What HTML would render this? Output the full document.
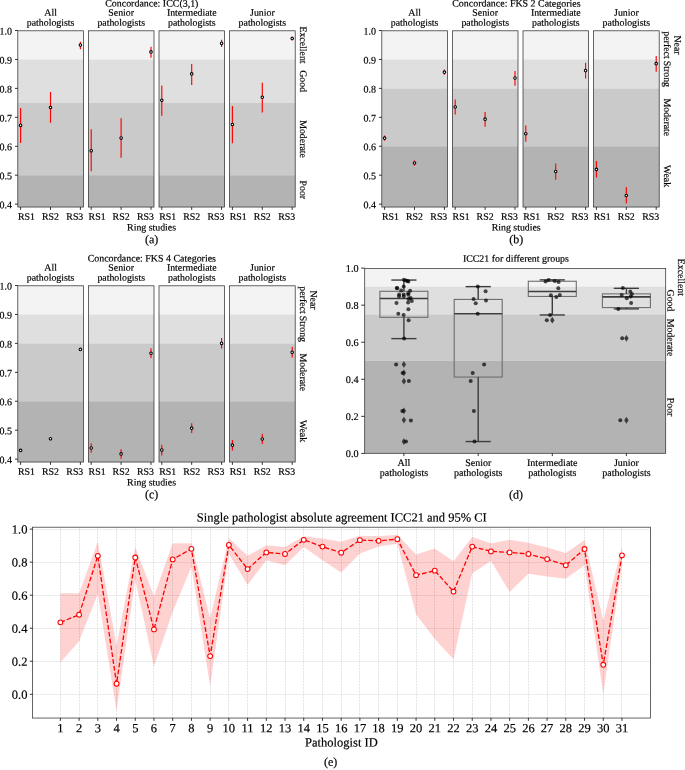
<!DOCTYPE html>
<html><head><meta charset="utf-8"><title>Figure</title>
<style>
html,body{margin:0;padding:0;background:#fff;}
body{width:685px;height:770px;overflow:hidden;}
svg{display:block;will-change:transform;text-rendering:geometricPrecision;font-family:'Liberation Serif', serif;fill:#000;}
svg text{stroke:#000;stroke-width:0.18px;}
</style></head><body>
<svg width="685" height="770" viewBox="0 0 685 770">
<rect width="685" height="770" fill="#fff"/>
<rect x="17.80" y="30.80" width="65.60" height="28.64" fill="#f3f3f3"/>
<rect x="17.80" y="59.44" width="65.60" height="43.41" fill="#dfdfdf"/>
<rect x="17.80" y="102.85" width="65.60" height="72.35" fill="#cacaca"/>
<rect x="17.80" y="175.20" width="65.60" height="31.85" fill="#b3b3b3"/>
<line x1="20.60" x2="20.60" y1="107.89" y2="142.90" stroke="#f00" stroke-width="1.15"/>
<circle cx="20.60" cy="125.39" r="1.3" fill="#fff" stroke="#000" stroke-width="1.05"/>
<line x1="50.50" x2="50.50" y1="92.06" y2="122.82" stroke="#f00" stroke-width="1.15"/>
<circle cx="50.50" cy="107.48" r="1.3" fill="#fff" stroke="#000" stroke-width="1.05"/>
<line x1="80.40" x2="80.40" y1="41.79" y2="49.17" stroke="#f00" stroke-width="1.15"/>
<circle cx="80.40" cy="45.11" r="1.3" fill="#fff" stroke="#000" stroke-width="1.05"/>
<rect x="17.80" y="30.80" width="65.60" height="176.25" fill="none" stroke="#333" stroke-width="0.75"/>
<line x1="20.60" x2="20.60" y1="207.05" y2="209.85" stroke="#111" stroke-width="0.85"/>
<line x1="50.50" x2="50.50" y1="207.05" y2="209.85" stroke="#111" stroke-width="0.85"/>
<line x1="80.40" x2="80.40" y1="207.05" y2="209.85" stroke="#111" stroke-width="0.85"/>
<text x="18.00" y="219.65" transform="rotate(0.03 18.00 219.65)" font-size="9.85" text-anchor="start" >RS1</text>
<text x="50.50" y="219.65" transform="rotate(0.03 50.50 219.65)" font-size="9.85" text-anchor="middle" >RS2</text>
<text x="83.30" y="219.65" transform="rotate(0.03 83.30 219.65)" font-size="9.85" text-anchor="end" >RS3</text>
<text x="50.60" y="15.70" transform="rotate(0.03 50.60 15.70)" font-size="9.85" text-anchor="middle" >All</text>
<text x="50.60" y="25.70" transform="rotate(0.03 50.60 25.70)" font-size="9.85" text-anchor="middle" >pathologists</text>
<rect x="88.40" y="30.80" width="65.60" height="28.64" fill="#f3f3f3"/>
<rect x="88.40" y="59.44" width="65.60" height="43.41" fill="#dfdfdf"/>
<rect x="88.40" y="102.85" width="65.60" height="72.35" fill="#cacaca"/>
<rect x="88.40" y="175.20" width="65.60" height="31.85" fill="#b3b3b3"/>
<line x1="91.20" x2="91.20" y1="129.19" y2="171.26" stroke="#f00" stroke-width="1.15"/>
<circle cx="91.20" cy="150.80" r="1.3" fill="#fff" stroke="#000" stroke-width="1.05"/>
<line x1="121.10" x2="121.10" y1="118.19" y2="157.84" stroke="#f00" stroke-width="1.15"/>
<circle cx="121.10" cy="138.07" r="1.3" fill="#fff" stroke="#000" stroke-width="1.05"/>
<line x1="151.00" x2="151.00" y1="46.71" y2="57.79" stroke="#f00" stroke-width="1.15"/>
<circle cx="151.00" cy="51.92" r="1.3" fill="#fff" stroke="#000" stroke-width="1.05"/>
<rect x="88.40" y="30.80" width="65.60" height="176.25" fill="none" stroke="#333" stroke-width="0.75"/>
<line x1="91.20" x2="91.20" y1="207.05" y2="209.85" stroke="#111" stroke-width="0.85"/>
<line x1="121.10" x2="121.10" y1="207.05" y2="209.85" stroke="#111" stroke-width="0.85"/>
<line x1="151.00" x2="151.00" y1="207.05" y2="209.85" stroke="#111" stroke-width="0.85"/>
<text x="88.60" y="219.65" transform="rotate(0.03 88.60 219.65)" font-size="9.85" text-anchor="start" >RS1</text>
<text x="121.10" y="219.65" transform="rotate(0.03 121.10 219.65)" font-size="9.85" text-anchor="middle" >RS2</text>
<text x="153.90" y="219.65" transform="rotate(0.03 153.90 219.65)" font-size="9.85" text-anchor="end" >RS3</text>
<text x="121.20" y="15.70" transform="rotate(0.03 121.20 15.70)" font-size="9.85" text-anchor="middle" >Senior</text>
<text x="121.20" y="25.70" transform="rotate(0.03 121.20 25.70)" font-size="9.85" text-anchor="middle" >pathologists</text>
<rect x="159.00" y="30.80" width="65.60" height="28.64" fill="#f3f3f3"/>
<rect x="159.00" y="59.44" width="65.60" height="43.41" fill="#dfdfdf"/>
<rect x="159.00" y="102.85" width="65.60" height="72.35" fill="#cacaca"/>
<rect x="159.00" y="175.20" width="65.60" height="31.85" fill="#b3b3b3"/>
<line x1="161.80" x2="161.80" y1="85.49" y2="115.87" stroke="#f00" stroke-width="1.15"/>
<circle cx="161.80" cy="100.30" r="1.3" fill="#fff" stroke="#000" stroke-width="1.05"/>
<line x1="191.70" x2="191.70" y1="63.90" y2="84.99" stroke="#f00" stroke-width="1.15"/>
<circle cx="191.70" cy="73.91" r="1.3" fill="#fff" stroke="#000" stroke-width="1.05"/>
<line x1="221.60" x2="221.60" y1="39.76" y2="46.91" stroke="#f00" stroke-width="1.15"/>
<circle cx="221.60" cy="43.38" r="1.3" fill="#fff" stroke="#000" stroke-width="1.05"/>
<rect x="159.00" y="30.80" width="65.60" height="176.25" fill="none" stroke="#333" stroke-width="0.75"/>
<line x1="161.80" x2="161.80" y1="207.05" y2="209.85" stroke="#111" stroke-width="0.85"/>
<line x1="191.70" x2="191.70" y1="207.05" y2="209.85" stroke="#111" stroke-width="0.85"/>
<line x1="221.60" x2="221.60" y1="207.05" y2="209.85" stroke="#111" stroke-width="0.85"/>
<text x="159.20" y="219.65" transform="rotate(0.03 159.20 219.65)" font-size="9.85" text-anchor="start" >RS1</text>
<text x="191.70" y="219.65" transform="rotate(0.03 191.70 219.65)" font-size="9.85" text-anchor="middle" >RS2</text>
<text x="224.50" y="219.65" transform="rotate(0.03 224.50 219.65)" font-size="9.85" text-anchor="end" >RS3</text>
<text x="191.80" y="15.70" transform="rotate(0.03 191.80 15.70)" font-size="9.85" text-anchor="middle" >Intermediate</text>
<text x="191.80" y="25.70" transform="rotate(0.03 191.80 25.70)" font-size="9.85" text-anchor="middle" >pathologists</text>
<rect x="229.60" y="30.80" width="65.60" height="28.64" fill="#f3f3f3"/>
<rect x="229.60" y="59.44" width="65.60" height="43.41" fill="#dfdfdf"/>
<rect x="229.60" y="102.85" width="65.60" height="72.35" fill="#cacaca"/>
<rect x="229.60" y="175.20" width="65.60" height="31.85" fill="#b3b3b3"/>
<line x1="232.40" x2="232.40" y1="106.03" y2="143.37" stroke="#f00" stroke-width="1.15"/>
<circle cx="232.40" cy="124.47" r="1.3" fill="#fff" stroke="#000" stroke-width="1.05"/>
<line x1="262.30" x2="262.30" y1="82.82" y2="112.40" stroke="#f00" stroke-width="1.15"/>
<circle cx="262.30" cy="97.26" r="1.3" fill="#fff" stroke="#000" stroke-width="1.05"/>
<line x1="292.20" x2="292.20" y1="36.43" y2="40.48" stroke="#f00" stroke-width="1.15"/>
<circle cx="292.20" cy="38.46" r="1.3" fill="#fff" stroke="#000" stroke-width="1.05"/>
<rect x="229.60" y="30.80" width="65.60" height="176.25" fill="none" stroke="#333" stroke-width="0.75"/>
<line x1="232.40" x2="232.40" y1="207.05" y2="209.85" stroke="#111" stroke-width="0.85"/>
<line x1="262.30" x2="262.30" y1="207.05" y2="209.85" stroke="#111" stroke-width="0.85"/>
<line x1="292.20" x2="292.20" y1="207.05" y2="209.85" stroke="#111" stroke-width="0.85"/>
<text x="229.80" y="219.65" transform="rotate(0.03 229.80 219.65)" font-size="9.85" text-anchor="start" >RS1</text>
<text x="262.30" y="219.65" transform="rotate(0.03 262.30 219.65)" font-size="9.85" text-anchor="middle" >RS2</text>
<text x="295.10" y="219.65" transform="rotate(0.03 295.10 219.65)" font-size="9.85" text-anchor="end" >RS3</text>
<text x="262.40" y="15.70" transform="rotate(0.03 262.40 15.70)" font-size="9.85" text-anchor="middle" >Junior</text>
<text x="262.40" y="25.70" transform="rotate(0.03 262.40 25.70)" font-size="9.85" text-anchor="middle" >pathologists</text>
<line x1="15.00" x2="17.80" y1="30.50" y2="30.50" stroke="#111" stroke-width="0.85"/>
<text x="12.10" y="34.60" transform="rotate(0.03 12.10 34.60)" font-size="10" text-anchor="end" >1.0</text>
<line x1="15.00" x2="17.80" y1="59.44" y2="59.44" stroke="#111" stroke-width="0.85"/>
<text x="12.10" y="63.54" transform="rotate(0.03 12.10 63.54)" font-size="10" text-anchor="end" >0.9</text>
<line x1="15.00" x2="17.80" y1="88.38" y2="88.38" stroke="#111" stroke-width="0.85"/>
<text x="12.10" y="92.48" transform="rotate(0.03 12.10 92.48)" font-size="10" text-anchor="end" >0.8</text>
<line x1="15.00" x2="17.80" y1="117.32" y2="117.32" stroke="#111" stroke-width="0.85"/>
<text x="12.10" y="121.42" transform="rotate(0.03 12.10 121.42)" font-size="10" text-anchor="end" >0.7</text>
<line x1="15.00" x2="17.80" y1="146.26" y2="146.26" stroke="#111" stroke-width="0.85"/>
<text x="12.10" y="150.36" transform="rotate(0.03 12.10 150.36)" font-size="10" text-anchor="end" >0.6</text>
<line x1="15.00" x2="17.80" y1="175.20" y2="175.20" stroke="#111" stroke-width="0.85"/>
<text x="12.10" y="179.30" transform="rotate(0.03 12.10 179.30)" font-size="10" text-anchor="end" >0.5</text>
<line x1="15.00" x2="17.80" y1="204.14" y2="204.14" stroke="#111" stroke-width="0.85"/>
<text x="12.10" y="208.24" transform="rotate(0.03 12.10 208.24)" font-size="10" text-anchor="end" >0.4</text>
<text x="151.80" y="6.60" transform="rotate(0.03 151.80 6.60)" font-size="9.95" text-anchor="middle" >Concordance: ICC(3,1)</text>
<text x="151.60" y="230.55" transform="rotate(0.03 151.60 230.55)" font-size="9.85" text-anchor="middle" >Ring studies</text>
<text x="151.60" y="243.25" transform="rotate(0.03 151.60 243.25)" font-size="12" text-anchor="middle" >(a)</text>
<text transform="translate(300.10,44.97) rotate(90.03)" font-size="9.85" text-anchor="middle">Excellent</text>
<text transform="translate(300.10,81.15) rotate(90.03)" font-size="9.85" text-anchor="middle">Good</text>
<text transform="translate(300.10,139.02) rotate(90.03)" font-size="9.85" text-anchor="middle">Moderate</text>
<text transform="translate(300.10,189.81) rotate(90.03)" font-size="9.85" text-anchor="middle">Poor</text>
<rect x="381.80" y="30.80" width="65.60" height="28.64" fill="#f3f3f3"/>
<rect x="381.80" y="59.44" width="65.60" height="28.94" fill="#dfdfdf"/>
<rect x="381.80" y="88.38" width="65.60" height="57.88" fill="#cacaca"/>
<rect x="381.80" y="146.26" width="65.60" height="60.79" fill="#b3b3b3"/>
<line x1="384.60" x2="384.60" y1="135.55" y2="140.76" stroke="#f00" stroke-width="1.15"/>
<circle cx="384.60" cy="138.19" r="1.3" fill="#fff" stroke="#000" stroke-width="1.05"/>
<line x1="414.50" x2="414.50" y1="160.44" y2="165.65" stroke="#f00" stroke-width="1.15"/>
<circle cx="414.50" cy="162.99" r="1.3" fill="#fff" stroke="#000" stroke-width="1.05"/>
<line x1="444.40" x2="444.40" y1="69.57" y2="74.78" stroke="#f00" stroke-width="1.15"/>
<circle cx="444.40" cy="72.17" r="1.3" fill="#fff" stroke="#000" stroke-width="1.05"/>
<rect x="381.80" y="30.80" width="65.60" height="176.25" fill="none" stroke="#333" stroke-width="0.75"/>
<line x1="384.60" x2="384.60" y1="207.05" y2="209.85" stroke="#111" stroke-width="0.85"/>
<line x1="414.50" x2="414.50" y1="207.05" y2="209.85" stroke="#111" stroke-width="0.85"/>
<line x1="444.40" x2="444.40" y1="207.05" y2="209.85" stroke="#111" stroke-width="0.85"/>
<text x="382.00" y="219.65" transform="rotate(0.03 382.00 219.65)" font-size="9.85" text-anchor="start" >RS1</text>
<text x="414.50" y="219.65" transform="rotate(0.03 414.50 219.65)" font-size="9.85" text-anchor="middle" >RS2</text>
<text x="447.30" y="219.65" transform="rotate(0.03 447.30 219.65)" font-size="9.85" text-anchor="end" >RS3</text>
<text x="414.60" y="15.70" transform="rotate(0.03 414.60 15.70)" font-size="9.85" text-anchor="middle" >All</text>
<text x="414.60" y="25.70" transform="rotate(0.03 414.60 25.70)" font-size="9.85" text-anchor="middle" >pathologists</text>
<rect x="452.40" y="30.80" width="65.60" height="28.64" fill="#f3f3f3"/>
<rect x="452.40" y="59.44" width="65.60" height="28.94" fill="#dfdfdf"/>
<rect x="452.40" y="88.38" width="65.60" height="57.88" fill="#cacaca"/>
<rect x="452.40" y="146.26" width="65.60" height="60.79" fill="#b3b3b3"/>
<line x1="455.20" x2="455.20" y1="99.61" y2="114.51" stroke="#f00" stroke-width="1.15"/>
<circle cx="455.20" cy="106.99" r="1.3" fill="#fff" stroke="#000" stroke-width="1.05"/>
<line x1="485.10" x2="485.10" y1="111.91" y2="126.81" stroke="#f00" stroke-width="1.15"/>
<circle cx="485.10" cy="119.20" r="1.3" fill="#fff" stroke="#000" stroke-width="1.05"/>
<line x1="515.00" x2="515.00" y1="71.02" y2="85.69" stroke="#f00" stroke-width="1.15"/>
<circle cx="515.00" cy="78.11" r="1.3" fill="#fff" stroke="#000" stroke-width="1.05"/>
<rect x="452.40" y="30.80" width="65.60" height="176.25" fill="none" stroke="#333" stroke-width="0.75"/>
<line x1="455.20" x2="455.20" y1="207.05" y2="209.85" stroke="#111" stroke-width="0.85"/>
<line x1="485.10" x2="485.10" y1="207.05" y2="209.85" stroke="#111" stroke-width="0.85"/>
<line x1="515.00" x2="515.00" y1="207.05" y2="209.85" stroke="#111" stroke-width="0.85"/>
<text x="452.60" y="219.65" transform="rotate(0.03 452.60 219.65)" font-size="9.85" text-anchor="start" >RS1</text>
<text x="485.10" y="219.65" transform="rotate(0.03 485.10 219.65)" font-size="9.85" text-anchor="middle" >RS2</text>
<text x="517.90" y="219.65" transform="rotate(0.03 517.90 219.65)" font-size="9.85" text-anchor="end" >RS3</text>
<text x="485.20" y="15.70" transform="rotate(0.03 485.20 15.70)" font-size="9.85" text-anchor="middle" >Senior</text>
<text x="485.20" y="25.70" transform="rotate(0.03 485.20 25.70)" font-size="9.85" text-anchor="middle" >pathologists</text>
<rect x="523.00" y="30.80" width="65.60" height="28.64" fill="#f3f3f3"/>
<rect x="523.00" y="59.44" width="65.60" height="28.94" fill="#dfdfdf"/>
<rect x="523.00" y="88.38" width="65.60" height="57.88" fill="#cacaca"/>
<rect x="523.00" y="146.26" width="65.60" height="60.79" fill="#b3b3b3"/>
<line x1="525.80" x2="525.80" y1="125.60" y2="141.69" stroke="#f00" stroke-width="1.15"/>
<circle cx="525.80" cy="133.70" r="1.3" fill="#fff" stroke="#000" stroke-width="1.05"/>
<line x1="555.70" x2="555.70" y1="163.51" y2="179.80" stroke="#f00" stroke-width="1.15"/>
<circle cx="555.70" cy="171.50" r="1.3" fill="#fff" stroke="#000" stroke-width="1.05"/>
<line x1="585.60" x2="585.60" y1="62.80" y2="78.60" stroke="#f00" stroke-width="1.15"/>
<circle cx="585.60" cy="70.61" r="1.3" fill="#fff" stroke="#000" stroke-width="1.05"/>
<rect x="523.00" y="30.80" width="65.60" height="176.25" fill="none" stroke="#333" stroke-width="0.75"/>
<line x1="525.80" x2="525.80" y1="207.05" y2="209.85" stroke="#111" stroke-width="0.85"/>
<line x1="555.70" x2="555.70" y1="207.05" y2="209.85" stroke="#111" stroke-width="0.85"/>
<line x1="585.60" x2="585.60" y1="207.05" y2="209.85" stroke="#111" stroke-width="0.85"/>
<text x="523.20" y="219.65" transform="rotate(0.03 523.20 219.65)" font-size="9.85" text-anchor="start" >RS1</text>
<text x="555.70" y="219.65" transform="rotate(0.03 555.70 219.65)" font-size="9.85" text-anchor="middle" >RS2</text>
<text x="588.50" y="219.65" transform="rotate(0.03 588.50 219.65)" font-size="9.85" text-anchor="end" >RS3</text>
<text x="555.80" y="15.70" transform="rotate(0.03 555.80 15.70)" font-size="9.85" text-anchor="middle" >Intermediate</text>
<text x="555.80" y="25.70" transform="rotate(0.03 555.80 25.70)" font-size="9.85" text-anchor="middle" >pathologists</text>
<rect x="593.60" y="30.80" width="65.60" height="28.64" fill="#f3f3f3"/>
<rect x="593.60" y="59.44" width="65.60" height="28.94" fill="#dfdfdf"/>
<rect x="593.60" y="88.38" width="65.60" height="57.88" fill="#cacaca"/>
<rect x="593.60" y="146.26" width="65.60" height="60.79" fill="#b3b3b3"/>
<line x1="596.40" x2="596.40" y1="161.11" y2="177.40" stroke="#f00" stroke-width="1.15"/>
<circle cx="596.40" cy="169.41" r="1.3" fill="#fff" stroke="#000" stroke-width="1.05"/>
<line x1="626.30" x2="626.30" y1="187.09" y2="203.39" stroke="#f00" stroke-width="1.15"/>
<circle cx="626.30" cy="195.46" r="1.3" fill="#fff" stroke="#000" stroke-width="1.05"/>
<line x1="656.20" x2="656.20" y1="55.91" y2="71.71" stroke="#f00" stroke-width="1.15"/>
<circle cx="656.20" cy="63.69" r="1.3" fill="#fff" stroke="#000" stroke-width="1.05"/>
<rect x="593.60" y="30.80" width="65.60" height="176.25" fill="none" stroke="#333" stroke-width="0.75"/>
<line x1="596.40" x2="596.40" y1="207.05" y2="209.85" stroke="#111" stroke-width="0.85"/>
<line x1="626.30" x2="626.30" y1="207.05" y2="209.85" stroke="#111" stroke-width="0.85"/>
<line x1="656.20" x2="656.20" y1="207.05" y2="209.85" stroke="#111" stroke-width="0.85"/>
<text x="593.80" y="219.65" transform="rotate(0.03 593.80 219.65)" font-size="9.85" text-anchor="start" >RS1</text>
<text x="626.30" y="219.65" transform="rotate(0.03 626.30 219.65)" font-size="9.85" text-anchor="middle" >RS2</text>
<text x="659.10" y="219.65" transform="rotate(0.03 659.10 219.65)" font-size="9.85" text-anchor="end" >RS3</text>
<text x="626.40" y="15.70" transform="rotate(0.03 626.40 15.70)" font-size="9.85" text-anchor="middle" >Junior</text>
<text x="626.40" y="25.70" transform="rotate(0.03 626.40 25.70)" font-size="9.85" text-anchor="middle" >pathologists</text>
<line x1="379.00" x2="381.80" y1="30.50" y2="30.50" stroke="#111" stroke-width="0.85"/>
<text x="376.10" y="34.60" transform="rotate(0.03 376.10 34.60)" font-size="10" text-anchor="end" >1.0</text>
<line x1="379.00" x2="381.80" y1="59.44" y2="59.44" stroke="#111" stroke-width="0.85"/>
<text x="376.10" y="63.54" transform="rotate(0.03 376.10 63.54)" font-size="10" text-anchor="end" >0.9</text>
<line x1="379.00" x2="381.80" y1="88.38" y2="88.38" stroke="#111" stroke-width="0.85"/>
<text x="376.10" y="92.48" transform="rotate(0.03 376.10 92.48)" font-size="10" text-anchor="end" >0.8</text>
<line x1="379.00" x2="381.80" y1="117.32" y2="117.32" stroke="#111" stroke-width="0.85"/>
<text x="376.10" y="121.42" transform="rotate(0.03 376.10 121.42)" font-size="10" text-anchor="end" >0.7</text>
<line x1="379.00" x2="381.80" y1="146.26" y2="146.26" stroke="#111" stroke-width="0.85"/>
<text x="376.10" y="150.36" transform="rotate(0.03 376.10 150.36)" font-size="10" text-anchor="end" >0.6</text>
<line x1="379.00" x2="381.80" y1="175.20" y2="175.20" stroke="#111" stroke-width="0.85"/>
<text x="376.10" y="179.30" transform="rotate(0.03 376.10 179.30)" font-size="10" text-anchor="end" >0.5</text>
<line x1="379.00" x2="381.80" y1="204.14" y2="204.14" stroke="#111" stroke-width="0.85"/>
<text x="376.10" y="208.24" transform="rotate(0.03 376.10 208.24)" font-size="10" text-anchor="end" >0.4</text>
<text x="516.40" y="6.60" transform="rotate(0.03 516.40 6.60)" font-size="9.95" text-anchor="middle" >Concordance: FKS 2 Categories</text>
<text x="516.20" y="230.55" transform="rotate(0.03 516.20 230.55)" font-size="9.85" text-anchor="middle" >Ring studies</text>
<text x="516.20" y="243.25" transform="rotate(0.03 516.20 243.25)" font-size="12" text-anchor="middle" >(b)</text>
<text transform="translate(674.60,44.97) rotate(90.03)" font-size="9.85" text-anchor="middle">Near</text>
<text transform="translate(664.10,44.97) rotate(90.03)" font-size="9.85" text-anchor="middle">perfect</text>
<text transform="translate(664.10,73.91) rotate(90.03)" font-size="9.85" text-anchor="middle">Strong</text>
<text transform="translate(664.10,117.32) rotate(90.03)" font-size="9.85" text-anchor="middle">Moderate</text>
<text transform="translate(664.10,176.07) rotate(90.03)" font-size="9.85" text-anchor="middle">Weak</text>
<rect x="17.80" y="285.80" width="65.60" height="28.64" fill="#f3f3f3"/>
<rect x="17.80" y="314.44" width="65.60" height="28.94" fill="#dfdfdf"/>
<rect x="17.80" y="343.38" width="65.60" height="57.88" fill="#cacaca"/>
<rect x="17.80" y="401.26" width="65.60" height="60.79" fill="#b3b3b3"/>
<circle cx="20.60" cy="450.40" r="1.3" fill="#fff" stroke="#000" stroke-width="1.05"/>
<circle cx="50.50" cy="438.80" r="1.3" fill="#fff" stroke="#000" stroke-width="1.05"/>
<circle cx="80.40" cy="349.40" r="1.3" fill="#fff" stroke="#000" stroke-width="1.05"/>
<rect x="17.80" y="285.80" width="65.60" height="176.25" fill="none" stroke="#333" stroke-width="0.75"/>
<line x1="20.60" x2="20.60" y1="462.05" y2="464.85" stroke="#111" stroke-width="0.85"/>
<line x1="50.50" x2="50.50" y1="462.05" y2="464.85" stroke="#111" stroke-width="0.85"/>
<line x1="80.40" x2="80.40" y1="462.05" y2="464.85" stroke="#111" stroke-width="0.85"/>
<text x="18.00" y="474.65" transform="rotate(0.03 18.00 474.65)" font-size="9.85" text-anchor="start" >RS1</text>
<text x="50.50" y="474.65" transform="rotate(0.03 50.50 474.65)" font-size="9.85" text-anchor="middle" >RS2</text>
<text x="83.30" y="474.65" transform="rotate(0.03 83.30 474.65)" font-size="9.85" text-anchor="end" >RS3</text>
<text x="50.60" y="270.70" transform="rotate(0.03 50.60 270.70)" font-size="9.85" text-anchor="middle" >All</text>
<text x="50.60" y="280.70" transform="rotate(0.03 50.60 280.70)" font-size="9.85" text-anchor="middle" >pathologists</text>
<rect x="88.40" y="285.80" width="65.60" height="28.64" fill="#f3f3f3"/>
<rect x="88.40" y="314.44" width="65.60" height="28.94" fill="#dfdfdf"/>
<rect x="88.40" y="343.38" width="65.60" height="57.88" fill="#cacaca"/>
<rect x="88.40" y="401.26" width="65.60" height="60.79" fill="#b3b3b3"/>
<line x1="91.20" x2="91.20" y1="443.28" y2="452.72" stroke="#f00" stroke-width="1.15"/>
<circle cx="91.20" cy="448.00" r="1.3" fill="#fff" stroke="#000" stroke-width="1.05"/>
<line x1="121.10" x2="121.10" y1="449.16" y2="458.79" stroke="#f00" stroke-width="1.15"/>
<circle cx="121.10" cy="453.93" r="1.3" fill="#fff" stroke="#000" stroke-width="1.05"/>
<line x1="151.00" x2="151.00" y1="348.30" y2="357.99" stroke="#f00" stroke-width="1.15"/>
<circle cx="151.00" cy="353.22" r="1.3" fill="#fff" stroke="#000" stroke-width="1.05"/>
<rect x="88.40" y="285.80" width="65.60" height="176.25" fill="none" stroke="#333" stroke-width="0.75"/>
<line x1="91.20" x2="91.20" y1="462.05" y2="464.85" stroke="#111" stroke-width="0.85"/>
<line x1="121.10" x2="121.10" y1="462.05" y2="464.85" stroke="#111" stroke-width="0.85"/>
<line x1="151.00" x2="151.00" y1="462.05" y2="464.85" stroke="#111" stroke-width="0.85"/>
<text x="88.60" y="474.65" transform="rotate(0.03 88.60 474.65)" font-size="9.85" text-anchor="start" >RS1</text>
<text x="121.10" y="474.65" transform="rotate(0.03 121.10 474.65)" font-size="9.85" text-anchor="middle" >RS2</text>
<text x="153.90" y="474.65" transform="rotate(0.03 153.90 474.65)" font-size="9.85" text-anchor="end" >RS3</text>
<text x="121.20" y="270.70" transform="rotate(0.03 121.20 270.70)" font-size="9.85" text-anchor="middle" >Senior</text>
<text x="121.20" y="280.70" transform="rotate(0.03 121.20 280.70)" font-size="9.85" text-anchor="middle" >pathologists</text>
<rect x="159.00" y="285.80" width="65.60" height="28.64" fill="#f3f3f3"/>
<rect x="159.00" y="314.44" width="65.60" height="28.94" fill="#dfdfdf"/>
<rect x="159.00" y="343.38" width="65.60" height="57.88" fill="#cacaca"/>
<rect x="159.00" y="401.26" width="65.60" height="60.79" fill="#b3b3b3"/>
<line x1="161.80" x2="161.80" y1="444.81" y2="455.52" stroke="#f00" stroke-width="1.15"/>
<circle cx="161.80" cy="450.11" r="1.3" fill="#fff" stroke="#000" stroke-width="1.05"/>
<line x1="191.70" x2="191.70" y1="423.25" y2="432.95" stroke="#f00" stroke-width="1.15"/>
<circle cx="191.70" cy="428.17" r="1.3" fill="#fff" stroke="#000" stroke-width="1.05"/>
<line x1="221.60" x2="221.60" y1="337.88" y2="348.59" stroke="#f00" stroke-width="1.15"/>
<circle cx="221.60" cy="343.38" r="1.3" fill="#fff" stroke="#000" stroke-width="1.05"/>
<rect x="159.00" y="285.80" width="65.60" height="176.25" fill="none" stroke="#333" stroke-width="0.75"/>
<line x1="161.80" x2="161.80" y1="462.05" y2="464.85" stroke="#111" stroke-width="0.85"/>
<line x1="191.70" x2="191.70" y1="462.05" y2="464.85" stroke="#111" stroke-width="0.85"/>
<line x1="221.60" x2="221.60" y1="462.05" y2="464.85" stroke="#111" stroke-width="0.85"/>
<text x="159.20" y="474.65" transform="rotate(0.03 159.20 474.65)" font-size="9.85" text-anchor="start" >RS1</text>
<text x="191.70" y="474.65" transform="rotate(0.03 191.70 474.65)" font-size="9.85" text-anchor="middle" >RS2</text>
<text x="224.50" y="474.65" transform="rotate(0.03 224.50 474.65)" font-size="9.85" text-anchor="end" >RS3</text>
<text x="191.80" y="270.70" transform="rotate(0.03 191.80 270.70)" font-size="9.85" text-anchor="middle" >Intermediate</text>
<text x="191.80" y="280.70" transform="rotate(0.03 191.80 280.70)" font-size="9.85" text-anchor="middle" >pathologists</text>
<rect x="229.60" y="285.80" width="65.60" height="28.64" fill="#f3f3f3"/>
<rect x="229.60" y="314.44" width="65.60" height="28.94" fill="#dfdfdf"/>
<rect x="229.60" y="343.38" width="65.60" height="57.88" fill="#cacaca"/>
<rect x="229.60" y="401.26" width="65.60" height="60.79" fill="#b3b3b3"/>
<line x1="232.40" x2="232.40" y1="439.89" y2="450.60" stroke="#f00" stroke-width="1.15"/>
<circle cx="232.40" cy="445.19" r="1.3" fill="#fff" stroke="#000" stroke-width="1.05"/>
<line x1="262.30" x2="262.30" y1="433.82" y2="444.09" stroke="#f00" stroke-width="1.15"/>
<circle cx="262.30" cy="439.00" r="1.3" fill="#fff" stroke="#000" stroke-width="1.05"/>
<line x1="292.20" x2="292.20" y1="346.85" y2="357.56" stroke="#f00" stroke-width="1.15"/>
<circle cx="292.20" cy="352.35" r="1.3" fill="#fff" stroke="#000" stroke-width="1.05"/>
<rect x="229.60" y="285.80" width="65.60" height="176.25" fill="none" stroke="#333" stroke-width="0.75"/>
<line x1="232.40" x2="232.40" y1="462.05" y2="464.85" stroke="#111" stroke-width="0.85"/>
<line x1="262.30" x2="262.30" y1="462.05" y2="464.85" stroke="#111" stroke-width="0.85"/>
<line x1="292.20" x2="292.20" y1="462.05" y2="464.85" stroke="#111" stroke-width="0.85"/>
<text x="229.80" y="474.65" transform="rotate(0.03 229.80 474.65)" font-size="9.85" text-anchor="start" >RS1</text>
<text x="262.30" y="474.65" transform="rotate(0.03 262.30 474.65)" font-size="9.85" text-anchor="middle" >RS2</text>
<text x="295.10" y="474.65" transform="rotate(0.03 295.10 474.65)" font-size="9.85" text-anchor="end" >RS3</text>
<text x="262.40" y="270.70" transform="rotate(0.03 262.40 270.70)" font-size="9.85" text-anchor="middle" >Junior</text>
<text x="262.40" y="280.70" transform="rotate(0.03 262.40 280.70)" font-size="9.85" text-anchor="middle" >pathologists</text>
<line x1="15.00" x2="17.80" y1="285.50" y2="285.50" stroke="#111" stroke-width="0.85"/>
<text x="12.10" y="289.60" transform="rotate(0.03 12.10 289.60)" font-size="10" text-anchor="end" >1.0</text>
<line x1="15.00" x2="17.80" y1="314.44" y2="314.44" stroke="#111" stroke-width="0.85"/>
<text x="12.10" y="318.54" transform="rotate(0.03 12.10 318.54)" font-size="10" text-anchor="end" >0.9</text>
<line x1="15.00" x2="17.80" y1="343.38" y2="343.38" stroke="#111" stroke-width="0.85"/>
<text x="12.10" y="347.48" transform="rotate(0.03 12.10 347.48)" font-size="10" text-anchor="end" >0.8</text>
<line x1="15.00" x2="17.80" y1="372.32" y2="372.32" stroke="#111" stroke-width="0.85"/>
<text x="12.10" y="376.42" transform="rotate(0.03 12.10 376.42)" font-size="10" text-anchor="end" >0.7</text>
<line x1="15.00" x2="17.80" y1="401.26" y2="401.26" stroke="#111" stroke-width="0.85"/>
<text x="12.10" y="405.36" transform="rotate(0.03 12.10 405.36)" font-size="10" text-anchor="end" >0.6</text>
<line x1="15.00" x2="17.80" y1="430.20" y2="430.20" stroke="#111" stroke-width="0.85"/>
<text x="12.10" y="434.30" transform="rotate(0.03 12.10 434.30)" font-size="10" text-anchor="end" >0.5</text>
<line x1="15.00" x2="17.80" y1="459.14" y2="459.14" stroke="#111" stroke-width="0.85"/>
<text x="12.10" y="463.24" transform="rotate(0.03 12.10 463.24)" font-size="10" text-anchor="end" >0.4</text>
<text x="151.80" y="261.60" transform="rotate(0.03 151.80 261.60)" font-size="9.95" text-anchor="middle" >Concordance: FKS 4 Categories</text>
<text x="151.60" y="485.55" transform="rotate(0.03 151.60 485.55)" font-size="9.85" text-anchor="middle" >Ring studies</text>
<text x="151.60" y="498.25" transform="rotate(0.03 151.60 498.25)" font-size="12" text-anchor="middle" >(c)</text>
<text transform="translate(310.60,299.97) rotate(90.03)" font-size="9.85" text-anchor="middle">Near</text>
<text transform="translate(300.10,299.97) rotate(90.03)" font-size="9.85" text-anchor="middle">perfect</text>
<text transform="translate(300.10,328.91) rotate(90.03)" font-size="9.85" text-anchor="middle">Strong</text>
<text transform="translate(300.10,372.32) rotate(90.03)" font-size="9.85" text-anchor="middle">Moderate</text>
<text transform="translate(300.10,431.07) rotate(90.03)" font-size="9.85" text-anchor="middle">Weak</text>
<rect x="364.7" y="268.40" width="301.00" height="18.23" fill="#f3f3f3"/>
<rect x="364.7" y="286.63" width="301.00" height="27.79" fill="#dfdfdf"/>
<rect x="364.7" y="314.42" width="301.00" height="46.33" fill="#cacaca"/>
<rect x="364.7" y="360.75" width="301.00" height="92.55" fill="#b3b3b3"/>
<rect x="379.90" y="291.30" width="48.00" height="26.00" fill="none" stroke="#6e6e6e" stroke-width="1.1"/>
<line x1="403.90" x2="403.90" y1="291.30" y2="280.05" stroke="#3d3d3d" stroke-width="1.4"/>
<line x1="403.90" x2="403.90" y1="317.30" y2="338.61" stroke="#3d3d3d" stroke-width="1.4"/>
<line x1="391.30" x2="416.50" y1="338.61" y2="338.61" stroke="#3d3d3d" stroke-width="1.4"/>
<line x1="391.30" x2="416.50" y1="280.05" y2="280.05" stroke="#3d3d3d" stroke-width="1.4"/>
<line x1="379.90" x2="427.90" y1="298.49" y2="298.49" stroke="#3d3d3d" stroke-width="1.6"/>
<path d="M403.90,361.06 L406.10,364.46 L403.90,367.86 L401.70,364.46 Z" fill="#3d3d3d"/>
<path d="M403.90,369.39 L406.10,372.79 L403.90,376.19 L401.70,372.79 Z" fill="#3d3d3d"/>
<path d="M403.90,377.73 L406.10,381.13 L403.90,384.53 L401.70,381.13 Z" fill="#3d3d3d"/>
<path d="M403.90,407.38 L406.10,410.78 L403.90,414.18 L401.70,410.78 Z" fill="#3d3d3d"/>
<path d="M403.90,416.65 L406.10,420.05 L403.90,423.45 L401.70,420.05 Z" fill="#3d3d3d"/>
<path d="M403.90,438.14 L406.10,441.54 L403.90,444.94 L401.70,441.54 Z" fill="#3d3d3d"/>
<rect x="454.20" y="299.42" width="48.00" height="77.64" fill="none" stroke="#6e6e6e" stroke-width="1.1"/>
<line x1="478.20" x2="478.20" y1="299.42" y2="286.63" stroke="#3d3d3d" stroke-width="1.4"/>
<line x1="478.20" x2="478.20" y1="377.06" y2="441.54" stroke="#3d3d3d" stroke-width="1.4"/>
<line x1="465.60" x2="490.80" y1="441.54" y2="441.54" stroke="#3d3d3d" stroke-width="1.4"/>
<line x1="465.60" x2="490.80" y1="286.63" y2="286.63" stroke="#3d3d3d" stroke-width="1.4"/>
<line x1="454.20" x2="502.20" y1="313.79" y2="313.79" stroke="#3d3d3d" stroke-width="1.6"/>
<rect x="528.30" y="281.26" width="48.00" height="15.19" fill="none" stroke="#6e6e6e" stroke-width="1.1"/>
<line x1="552.30" x2="552.30" y1="281.26" y2="279.87" stroke="#3d3d3d" stroke-width="1.4"/>
<line x1="552.30" x2="552.30" y1="296.45" y2="314.98" stroke="#3d3d3d" stroke-width="1.4"/>
<line x1="539.70" x2="564.90" y1="314.98" y2="314.98" stroke="#3d3d3d" stroke-width="1.4"/>
<line x1="539.70" x2="564.90" y1="279.87" y2="279.87" stroke="#3d3d3d" stroke-width="1.4"/>
<line x1="528.30" x2="576.30" y1="291.45" y2="291.45" stroke="#3d3d3d" stroke-width="1.6"/>
<path d="M552.30,316.77 L554.50,320.17 L552.30,323.57 L550.10,320.17 Z" fill="#3d3d3d"/>
<rect x="602.40" y="293.86" width="48.00" height="13.71" fill="none" stroke="#6e6e6e" stroke-width="1.1"/>
<line x1="626.40" x2="626.40" y1="293.86" y2="288.30" stroke="#3d3d3d" stroke-width="1.4"/>
<line x1="626.40" x2="626.40" y1="307.57" y2="308.87" stroke="#3d3d3d" stroke-width="1.4"/>
<line x1="613.80" x2="639.00" y1="308.87" y2="308.87" stroke="#3d3d3d" stroke-width="1.4"/>
<line x1="613.80" x2="639.00" y1="288.30" y2="288.30" stroke="#3d3d3d" stroke-width="1.4"/>
<line x1="602.40" x2="650.40" y1="296.90" y2="296.90" stroke="#3d3d3d" stroke-width="1.6"/>
<path d="M626.40,334.93 L628.60,338.33 L626.40,341.73 L624.20,338.33 Z" fill="#3d3d3d"/>
<path d="M626.40,416.83 L628.60,420.23 L626.40,423.63 L624.20,420.23 Z" fill="#3d3d3d"/>
<circle cx="403.9" cy="279.7" r="2.0" fill="#000" fill-opacity="0.7"/>
<circle cx="405.8" cy="280.6" r="2.0" fill="#000" fill-opacity="0.7"/>
<circle cx="407.4" cy="281.0" r="2.0" fill="#000" fill-opacity="0.7"/>
<circle cx="408.4" cy="281.5" r="2.0" fill="#000" fill-opacity="0.7"/>
<circle cx="403.7" cy="286.6" r="2.0" fill="#000" fill-opacity="0.7"/>
<circle cx="396.8" cy="288.1" r="2.0" fill="#000" fill-opacity="0.7"/>
<circle cx="397.2" cy="288.3" r="2.0" fill="#000" fill-opacity="0.7"/>
<circle cx="401.2" cy="290.6" r="2.0" fill="#000" fill-opacity="0.7"/>
<circle cx="410.1" cy="290.7" r="2.0" fill="#000" fill-opacity="0.7"/>
<circle cx="408.2" cy="293.3" r="2.0" fill="#000" fill-opacity="0.7"/>
<circle cx="408.4" cy="294.7" r="2.0" fill="#000" fill-opacity="0.7"/>
<circle cx="399.1" cy="294.4" r="2.0" fill="#000" fill-opacity="0.7"/>
<circle cx="403.7" cy="294.4" r="2.0" fill="#000" fill-opacity="0.7"/>
<circle cx="399.0" cy="296.2" r="2.0" fill="#000" fill-opacity="0.7"/>
<circle cx="403.7" cy="296.2" r="2.0" fill="#000" fill-opacity="0.7"/>
<circle cx="410.6" cy="297.9" r="2.0" fill="#000" fill-opacity="0.7"/>
<circle cx="408.6" cy="298.9" r="2.0" fill="#000" fill-opacity="0.7"/>
<circle cx="411.8" cy="300.9" r="2.0" fill="#000" fill-opacity="0.7"/>
<circle cx="408.1" cy="302.6" r="2.0" fill="#000" fill-opacity="0.7"/>
<circle cx="396.5" cy="303.0" r="2.0" fill="#000" fill-opacity="0.7"/>
<circle cx="408.4" cy="309.2" r="2.0" fill="#000" fill-opacity="0.7"/>
<circle cx="398.3" cy="313.8" r="2.0" fill="#000" fill-opacity="0.7"/>
<circle cx="403.6" cy="315.0" r="2.0" fill="#000" fill-opacity="0.7"/>
<circle cx="408.6" cy="320.2" r="2.0" fill="#000" fill-opacity="0.7"/>
<circle cx="404.1" cy="338.6" r="2.0" fill="#000" fill-opacity="0.7"/>
<circle cx="396.1" cy="364.5" r="2.0" fill="#000" fill-opacity="0.7"/>
<circle cx="402.6" cy="372.9" r="2.0" fill="#000" fill-opacity="0.7"/>
<circle cx="408.9" cy="381.1" r="2.0" fill="#000" fill-opacity="0.7"/>
<circle cx="402.3" cy="410.9" r="2.0" fill="#000" fill-opacity="0.7"/>
<circle cx="410.9" cy="420.4" r="2.0" fill="#000" fill-opacity="0.7"/>
<circle cx="406" cy="441.5" r="2.0" fill="#000" fill-opacity="0.7"/>
<circle cx="477.8" cy="286.6" r="2.0" fill="#000" fill-opacity="0.7"/>
<circle cx="485.6" cy="291.2" r="2.0" fill="#000" fill-opacity="0.7"/>
<circle cx="473.6" cy="299" r="2.0" fill="#000" fill-opacity="0.7"/>
<circle cx="486" cy="300.6" r="2.0" fill="#000" fill-opacity="0.7"/>
<circle cx="475.7" cy="303.2" r="2.0" fill="#000" fill-opacity="0.7"/>
<circle cx="477.7" cy="313.8" r="2.0" fill="#000" fill-opacity="0.7"/>
<circle cx="484.1" cy="364.5" r="2.0" fill="#000" fill-opacity="0.7"/>
<circle cx="472.7" cy="372.9" r="2.0" fill="#000" fill-opacity="0.7"/>
<circle cx="470.7" cy="381.1" r="2.0" fill="#000" fill-opacity="0.7"/>
<circle cx="473.9" cy="410.9" r="2.0" fill="#000" fill-opacity="0.7"/>
<circle cx="474.5" cy="441.5" r="2.0" fill="#000" fill-opacity="0.7"/>
<circle cx="548.6" cy="279.9" r="2.0" fill="#000" fill-opacity="0.7"/>
<circle cx="545.6" cy="281.6" r="2.0" fill="#000" fill-opacity="0.7"/>
<circle cx="554.8" cy="281.1" r="2.0" fill="#000" fill-opacity="0.7"/>
<circle cx="558.6" cy="282.1" r="2.0" fill="#000" fill-opacity="0.7"/>
<circle cx="558.3" cy="288.3" r="2.0" fill="#000" fill-opacity="0.7"/>
<circle cx="550.9" cy="295.3" r="2.0" fill="#000" fill-opacity="0.7"/>
<circle cx="559.8" cy="295.1" r="2.0" fill="#000" fill-opacity="0.7"/>
<circle cx="556.3" cy="296.9" r="2.0" fill="#000" fill-opacity="0.7"/>
<circle cx="550.1" cy="315" r="2.0" fill="#000" fill-opacity="0.7"/>
<circle cx="546.8" cy="320.2" r="2.0" fill="#000" fill-opacity="0.7"/>
<circle cx="622.9" cy="288.1" r="2.0" fill="#000" fill-opacity="0.7"/>
<circle cx="630.3" cy="291.4" r="2.0" fill="#000" fill-opacity="0.7"/>
<circle cx="631.9" cy="293.9" r="2.0" fill="#000" fill-opacity="0.7"/>
<circle cx="621.7" cy="295" r="2.0" fill="#000" fill-opacity="0.7"/>
<circle cx="630.7" cy="296.4" r="2.0" fill="#000" fill-opacity="0.7"/>
<circle cx="626.8" cy="298.3" r="2.0" fill="#000" fill-opacity="0.7"/>
<circle cx="631.1" cy="302.9" r="2.0" fill="#000" fill-opacity="0.7"/>
<circle cx="618.3" cy="308.9" r="2.0" fill="#000" fill-opacity="0.7"/>
<circle cx="622.2" cy="338.3" r="2.0" fill="#000" fill-opacity="0.7"/>
<circle cx="620.3" cy="420.2" r="2.0" fill="#000" fill-opacity="0.7"/>
<rect x="364.7" y="268.4" width="301.00" height="184.90" fill="none" stroke="#333" stroke-width="0.75"/>
<line x1="361.20" x2="364.7" y1="453.40" y2="453.40" stroke="#111" stroke-width="0.85"/>
<text x="358.60" y="457.10" transform="rotate(0.03 358.60 457.10)" font-size="10.2" text-anchor="end" >0.0</text>
<line x1="361.20" x2="364.7" y1="416.34" y2="416.34" stroke="#111" stroke-width="0.85"/>
<text x="358.60" y="420.04" transform="rotate(0.03 358.60 420.04)" font-size="10.2" text-anchor="end" >0.2</text>
<line x1="361.20" x2="364.7" y1="379.28" y2="379.28" stroke="#111" stroke-width="0.85"/>
<text x="358.60" y="382.98" transform="rotate(0.03 358.60 382.98)" font-size="10.2" text-anchor="end" >0.4</text>
<line x1="361.20" x2="364.7" y1="342.22" y2="342.22" stroke="#111" stroke-width="0.85"/>
<text x="358.60" y="345.92" transform="rotate(0.03 358.60 345.92)" font-size="10.2" text-anchor="end" >0.6</text>
<line x1="361.20" x2="364.7" y1="305.16" y2="305.16" stroke="#111" stroke-width="0.85"/>
<text x="358.60" y="308.86" transform="rotate(0.03 358.60 308.86)" font-size="10.2" text-anchor="end" >0.8</text>
<line x1="361.20" x2="364.7" y1="268.10" y2="268.10" stroke="#111" stroke-width="0.85"/>
<text x="358.60" y="271.80" transform="rotate(0.03 358.60 271.80)" font-size="10.2" text-anchor="end" >1.0</text>
<line x1="403.9" x2="403.9" y1="453.3" y2="456.10" stroke="#111" stroke-width="0.85"/>
<text x="403.90" y="466.00" transform="rotate(0.03 403.90 466.00)" font-size="10" text-anchor="middle" >All</text>
<text x="403.90" y="476.00" transform="rotate(0.03 403.90 476.00)" font-size="10" text-anchor="middle" >pathologists</text>
<line x1="478.2" x2="478.2" y1="453.3" y2="456.10" stroke="#111" stroke-width="0.85"/>
<text x="478.20" y="466.00" transform="rotate(0.03 478.20 466.00)" font-size="10" text-anchor="middle" >Senior</text>
<text x="478.20" y="476.00" transform="rotate(0.03 478.20 476.00)" font-size="10" text-anchor="middle" >pathologists</text>
<line x1="552.3" x2="552.3" y1="453.3" y2="456.10" stroke="#111" stroke-width="0.85"/>
<text x="552.30" y="466.00" transform="rotate(0.03 552.30 466.00)" font-size="10" text-anchor="middle" >Intermediate</text>
<text x="552.30" y="476.00" transform="rotate(0.03 552.30 476.00)" font-size="10" text-anchor="middle" >pathologists</text>
<line x1="626.4" x2="626.4" y1="453.3" y2="456.10" stroke="#111" stroke-width="0.85"/>
<text x="626.40" y="466.00" transform="rotate(0.03 626.40 466.00)" font-size="10" text-anchor="middle" >Junior</text>
<text x="626.40" y="476.00" transform="rotate(0.03 626.40 476.00)" font-size="10" text-anchor="middle" >pathologists</text>
<text x="515.90" y="261.80" transform="rotate(0.03 515.90 261.80)" font-size="9.9" text-anchor="middle" >ICC21 for different groups</text>
<text x="516.00" y="498.40" transform="rotate(0.03 516.00 498.40)" font-size="12" text-anchor="middle" >(d)</text>
<text transform="translate(678.00,277.37) rotate(90.03)" font-size="9.85" text-anchor="middle">Excellent</text>
<text transform="translate(667.60,300.53) rotate(90.03)" font-size="9.85" text-anchor="middle">Good</text>
<text transform="translate(667.60,337.59) rotate(90.03)" font-size="9.85" text-anchor="middle">Moderate</text>
<text transform="translate(667.60,407.07) rotate(90.03)" font-size="9.85" text-anchor="middle">Poor</text>
<rect x="32.6" y="527.2" width="617.80" height="190.85" fill="#fff"/>
<line x1="60.50" x2="60.50" y1="527.2" y2="718.05" stroke="#d8d8d8" stroke-width="0.7" stroke-dasharray="2.2,1.0"/>
<line x1="79.50" x2="79.50" y1="527.2" y2="718.05" stroke="#d8d8d8" stroke-width="0.7" stroke-dasharray="2.2,1.0"/>
<line x1="97.50" x2="97.50" y1="527.2" y2="718.05" stroke="#d8d8d8" stroke-width="0.7" stroke-dasharray="2.2,1.0"/>
<line x1="116.50" x2="116.50" y1="527.2" y2="718.05" stroke="#d8d8d8" stroke-width="0.7" stroke-dasharray="2.2,1.0"/>
<line x1="135.50" x2="135.50" y1="527.2" y2="718.05" stroke="#d8d8d8" stroke-width="0.7" stroke-dasharray="2.2,1.0"/>
<line x1="153.50" x2="153.50" y1="527.2" y2="718.05" stroke="#d8d8d8" stroke-width="0.7" stroke-dasharray="2.2,1.0"/>
<line x1="172.50" x2="172.50" y1="527.2" y2="718.05" stroke="#d8d8d8" stroke-width="0.7" stroke-dasharray="2.2,1.0"/>
<line x1="191.50" x2="191.50" y1="527.2" y2="718.05" stroke="#d8d8d8" stroke-width="0.7" stroke-dasharray="2.2,1.0"/>
<line x1="210.50" x2="210.50" y1="527.2" y2="718.05" stroke="#d8d8d8" stroke-width="0.7" stroke-dasharray="2.2,1.0"/>
<line x1="228.50" x2="228.50" y1="527.2" y2="718.05" stroke="#d8d8d8" stroke-width="0.7" stroke-dasharray="2.2,1.0"/>
<line x1="247.50" x2="247.50" y1="527.2" y2="718.05" stroke="#d8d8d8" stroke-width="0.7" stroke-dasharray="2.2,1.0"/>
<line x1="266.50" x2="266.50" y1="527.2" y2="718.05" stroke="#d8d8d8" stroke-width="0.7" stroke-dasharray="2.2,1.0"/>
<line x1="285.50" x2="285.50" y1="527.2" y2="718.05" stroke="#d8d8d8" stroke-width="0.7" stroke-dasharray="2.2,1.0"/>
<line x1="303.50" x2="303.50" y1="527.2" y2="718.05" stroke="#d8d8d8" stroke-width="0.7" stroke-dasharray="2.2,1.0"/>
<line x1="322.50" x2="322.50" y1="527.2" y2="718.05" stroke="#d8d8d8" stroke-width="0.7" stroke-dasharray="2.2,1.0"/>
<line x1="341.50" x2="341.50" y1="527.2" y2="718.05" stroke="#d8d8d8" stroke-width="0.7" stroke-dasharray="2.2,1.0"/>
<line x1="359.50" x2="359.50" y1="527.2" y2="718.05" stroke="#d8d8d8" stroke-width="0.7" stroke-dasharray="2.2,1.0"/>
<line x1="378.50" x2="378.50" y1="527.2" y2="718.05" stroke="#d8d8d8" stroke-width="0.7" stroke-dasharray="2.2,1.0"/>
<line x1="397.50" x2="397.50" y1="527.2" y2="718.05" stroke="#d8d8d8" stroke-width="0.7" stroke-dasharray="2.2,1.0"/>
<line x1="416.50" x2="416.50" y1="527.2" y2="718.05" stroke="#d8d8d8" stroke-width="0.7" stroke-dasharray="2.2,1.0"/>
<line x1="434.50" x2="434.50" y1="527.2" y2="718.05" stroke="#d8d8d8" stroke-width="0.7" stroke-dasharray="2.2,1.0"/>
<line x1="453.50" x2="453.50" y1="527.2" y2="718.05" stroke="#d8d8d8" stroke-width="0.7" stroke-dasharray="2.2,1.0"/>
<line x1="472.50" x2="472.50" y1="527.2" y2="718.05" stroke="#d8d8d8" stroke-width="0.7" stroke-dasharray="2.2,1.0"/>
<line x1="490.50" x2="490.50" y1="527.2" y2="718.05" stroke="#d8d8d8" stroke-width="0.7" stroke-dasharray="2.2,1.0"/>
<line x1="509.50" x2="509.50" y1="527.2" y2="718.05" stroke="#d8d8d8" stroke-width="0.7" stroke-dasharray="2.2,1.0"/>
<line x1="528.50" x2="528.50" y1="527.2" y2="718.05" stroke="#d8d8d8" stroke-width="0.7" stroke-dasharray="2.2,1.0"/>
<line x1="547.50" x2="547.50" y1="527.2" y2="718.05" stroke="#d8d8d8" stroke-width="0.7" stroke-dasharray="2.2,1.0"/>
<line x1="565.50" x2="565.50" y1="527.2" y2="718.05" stroke="#d8d8d8" stroke-width="0.7" stroke-dasharray="2.2,1.0"/>
<line x1="584.50" x2="584.50" y1="527.2" y2="718.05" stroke="#d8d8d8" stroke-width="0.7" stroke-dasharray="2.2,1.0"/>
<line x1="603.50" x2="603.50" y1="527.2" y2="718.05" stroke="#d8d8d8" stroke-width="0.7" stroke-dasharray="2.2,1.0"/>
<line x1="621.50" x2="621.50" y1="527.2" y2="718.05" stroke="#d8d8d8" stroke-width="0.7" stroke-dasharray="2.2,1.0"/>
<line x1="32.6" x2="650.4" y1="694.50" y2="694.50" stroke="#d8d8d8" stroke-width="0.7" stroke-dasharray="2.2,1.0"/>
<line x1="32.6" x2="650.4" y1="661.50" y2="661.50" stroke="#d8d8d8" stroke-width="0.7" stroke-dasharray="2.2,1.0"/>
<line x1="32.6" x2="650.4" y1="628.50" y2="628.50" stroke="#d8d8d8" stroke-width="0.7" stroke-dasharray="2.2,1.0"/>
<line x1="32.6" x2="650.4" y1="595.50" y2="595.50" stroke="#d8d8d8" stroke-width="0.7" stroke-dasharray="2.2,1.0"/>
<line x1="32.6" x2="650.4" y1="562.50" y2="562.50" stroke="#d8d8d8" stroke-width="0.7" stroke-dasharray="2.2,1.0"/>
<line x1="32.6" x2="650.4" y1="529.50" y2="529.50" stroke="#d8d8d8" stroke-width="0.7" stroke-dasharray="2.2,1.0"/>
<polygon points="60.38,593.20 79.10,593.20 97.82,541.82 116.54,645.48 135.26,546.94 153.98,596.34 172.70,543.36 191.42,543.36 210.14,618.19 228.86,538.19 247.58,555.86 266.30,545.29 285.02,546.94 303.74,536.29 322.46,538.52 341.18,541.82 359.90,535.71 378.62,536.29 397.34,534.72 416.06,554.61 434.78,548.49 453.50,561.31 472.22,536.93 490.94,543.36 509.66,539.84 528.38,542.71 547.10,547.54 565.82,552.99 584.54,540.00 603.26,620.46 621.98,546.78 621.98,564.45 603.26,694.30 584.54,565.20 565.82,578.69 547.10,576.43 528.38,573.87 509.66,591.88 490.94,561.02 472.22,573.21 453.50,659.28 434.78,639.06 416.06,614.34 397.34,543.64 378.62,546.61 359.90,553.38 341.18,572.58 322.46,560.37 303.74,546.94 285.02,565.20 266.30,560.37 247.58,584.94 228.86,553.96 210.14,686.27 191.42,566.77 172.70,611.77 153.98,666.38 135.26,579.65 116.54,710.65 97.82,594.11 79.10,641.30 60.38,662.50" fill="#f00" fill-opacity="0.175"/>
<polyline points="60.38,622.36 79.10,614.67 97.82,555.86 116.54,683.73 135.26,557.51 153.98,629.43 172.70,559.41 191.42,548.82 210.14,656.09 228.86,544.96 247.58,569.08 266.30,552.39 285.02,553.96 303.74,539.84 322.46,546.61 341.18,552.72 359.90,540.17 378.62,540.83 397.34,539.18 416.06,575.19 434.78,570.66 453.50,591.55 472.22,546.61 490.94,551.40 509.66,552.39 528.38,553.96 547.10,559.10 565.82,565.20 584.54,549.01 603.26,664.76 621.98,555.37" fill="none" stroke="#f00" stroke-width="1.3" stroke-dasharray="4.8,2.1"/>
<circle cx="60.38" cy="622.36" r="2.4" fill="#fff" stroke="#f00" stroke-width="1.05"/>
<circle cx="79.10" cy="614.67" r="2.4" fill="#fff" stroke="#f00" stroke-width="1.05"/>
<circle cx="97.82" cy="555.86" r="2.4" fill="#fff" stroke="#f00" stroke-width="1.05"/>
<circle cx="116.54" cy="683.73" r="2.4" fill="#fff" stroke="#f00" stroke-width="1.05"/>
<circle cx="135.26" cy="557.51" r="2.4" fill="#fff" stroke="#f00" stroke-width="1.05"/>
<circle cx="153.98" cy="629.43" r="2.4" fill="#fff" stroke="#f00" stroke-width="1.05"/>
<circle cx="172.70" cy="559.41" r="2.4" fill="#fff" stroke="#f00" stroke-width="1.05"/>
<circle cx="191.42" cy="548.82" r="2.4" fill="#fff" stroke="#f00" stroke-width="1.05"/>
<circle cx="210.14" cy="656.09" r="2.4" fill="#fff" stroke="#f00" stroke-width="1.05"/>
<circle cx="228.86" cy="544.96" r="2.4" fill="#fff" stroke="#f00" stroke-width="1.05"/>
<circle cx="247.58" cy="569.08" r="2.4" fill="#fff" stroke="#f00" stroke-width="1.05"/>
<circle cx="266.30" cy="552.39" r="2.4" fill="#fff" stroke="#f00" stroke-width="1.05"/>
<circle cx="285.02" cy="553.96" r="2.4" fill="#fff" stroke="#f00" stroke-width="1.05"/>
<circle cx="303.74" cy="539.84" r="2.4" fill="#fff" stroke="#f00" stroke-width="1.05"/>
<circle cx="322.46" cy="546.61" r="2.4" fill="#fff" stroke="#f00" stroke-width="1.05"/>
<circle cx="341.18" cy="552.72" r="2.4" fill="#fff" stroke="#f00" stroke-width="1.05"/>
<circle cx="359.90" cy="540.17" r="2.4" fill="#fff" stroke="#f00" stroke-width="1.05"/>
<circle cx="378.62" cy="540.83" r="2.4" fill="#fff" stroke="#f00" stroke-width="1.05"/>
<circle cx="397.34" cy="539.18" r="2.4" fill="#fff" stroke="#f00" stroke-width="1.05"/>
<circle cx="416.06" cy="575.19" r="2.4" fill="#fff" stroke="#f00" stroke-width="1.05"/>
<circle cx="434.78" cy="570.66" r="2.4" fill="#fff" stroke="#f00" stroke-width="1.05"/>
<circle cx="453.50" cy="591.55" r="2.4" fill="#fff" stroke="#f00" stroke-width="1.05"/>
<circle cx="472.22" cy="546.61" r="2.4" fill="#fff" stroke="#f00" stroke-width="1.05"/>
<circle cx="490.94" cy="551.40" r="2.4" fill="#fff" stroke="#f00" stroke-width="1.05"/>
<circle cx="509.66" cy="552.39" r="2.4" fill="#fff" stroke="#f00" stroke-width="1.05"/>
<circle cx="528.38" cy="553.96" r="2.4" fill="#fff" stroke="#f00" stroke-width="1.05"/>
<circle cx="547.10" cy="559.10" r="2.4" fill="#fff" stroke="#f00" stroke-width="1.05"/>
<circle cx="565.82" cy="565.20" r="2.4" fill="#fff" stroke="#f00" stroke-width="1.05"/>
<circle cx="584.54" cy="549.01" r="2.4" fill="#fff" stroke="#f00" stroke-width="1.05"/>
<circle cx="603.26" cy="664.76" r="2.4" fill="#fff" stroke="#f00" stroke-width="1.05"/>
<circle cx="621.98" cy="555.37" r="2.4" fill="#fff" stroke="#f00" stroke-width="1.05"/>
<rect x="32.6" y="527.2" width="617.80" height="190.85" fill="none" stroke="#333" stroke-width="0.75"/>
<line x1="29.80" x2="32.6" y1="694.30" y2="694.30" stroke="#111" stroke-width="0.85"/>
<text x="27.40" y="698.80" transform="rotate(0.03 27.40 698.80)" font-size="12.5" text-anchor="end" >0.0</text>
<line x1="29.80" x2="32.6" y1="661.26" y2="661.26" stroke="#111" stroke-width="0.85"/>
<text x="27.40" y="665.76" transform="rotate(0.03 27.40 665.76)" font-size="12.5" text-anchor="end" >0.2</text>
<line x1="29.80" x2="32.6" y1="628.22" y2="628.22" stroke="#111" stroke-width="0.85"/>
<text x="27.40" y="632.72" transform="rotate(0.03 27.40 632.72)" font-size="12.5" text-anchor="end" >0.4</text>
<line x1="29.80" x2="32.6" y1="595.18" y2="595.18" stroke="#111" stroke-width="0.85"/>
<text x="27.40" y="599.68" transform="rotate(0.03 27.40 599.68)" font-size="12.5" text-anchor="end" >0.6</text>
<line x1="29.80" x2="32.6" y1="562.14" y2="562.14" stroke="#111" stroke-width="0.85"/>
<text x="27.40" y="566.64" transform="rotate(0.03 27.40 566.64)" font-size="12.5" text-anchor="end" >0.8</text>
<line x1="29.80" x2="32.6" y1="529.10" y2="529.10" stroke="#111" stroke-width="0.85"/>
<text x="27.40" y="533.60" transform="rotate(0.03 27.40 533.60)" font-size="12.5" text-anchor="end" >1.0</text>
<line x1="60.38" x2="60.38" y1="718.05" y2="720.85" stroke="#111" stroke-width="0.85"/>
<text x="60.38" y="732.30" transform="rotate(0.03 60.38 732.30)" font-size="12.5" text-anchor="middle" >1</text>
<line x1="79.10" x2="79.10" y1="718.05" y2="720.85" stroke="#111" stroke-width="0.85"/>
<text x="79.10" y="732.30" transform="rotate(0.03 79.10 732.30)" font-size="12.5" text-anchor="middle" >2</text>
<line x1="97.82" x2="97.82" y1="718.05" y2="720.85" stroke="#111" stroke-width="0.85"/>
<text x="97.82" y="732.30" transform="rotate(0.03 97.82 732.30)" font-size="12.5" text-anchor="middle" >3</text>
<line x1="116.54" x2="116.54" y1="718.05" y2="720.85" stroke="#111" stroke-width="0.85"/>
<text x="116.54" y="732.30" transform="rotate(0.03 116.54 732.30)" font-size="12.5" text-anchor="middle" >4</text>
<line x1="135.26" x2="135.26" y1="718.05" y2="720.85" stroke="#111" stroke-width="0.85"/>
<text x="135.26" y="732.30" transform="rotate(0.03 135.26 732.30)" font-size="12.5" text-anchor="middle" >5</text>
<line x1="153.98" x2="153.98" y1="718.05" y2="720.85" stroke="#111" stroke-width="0.85"/>
<text x="153.98" y="732.30" transform="rotate(0.03 153.98 732.30)" font-size="12.5" text-anchor="middle" >6</text>
<line x1="172.70" x2="172.70" y1="718.05" y2="720.85" stroke="#111" stroke-width="0.85"/>
<text x="172.70" y="732.30" transform="rotate(0.03 172.70 732.30)" font-size="12.5" text-anchor="middle" >7</text>
<line x1="191.42" x2="191.42" y1="718.05" y2="720.85" stroke="#111" stroke-width="0.85"/>
<text x="191.42" y="732.30" transform="rotate(0.03 191.42 732.30)" font-size="12.5" text-anchor="middle" >8</text>
<line x1="210.14" x2="210.14" y1="718.05" y2="720.85" stroke="#111" stroke-width="0.85"/>
<text x="210.14" y="732.30" transform="rotate(0.03 210.14 732.30)" font-size="12.5" text-anchor="middle" >9</text>
<line x1="228.86" x2="228.86" y1="718.05" y2="720.85" stroke="#111" stroke-width="0.85"/>
<text x="228.86" y="732.30" transform="rotate(0.03 228.86 732.30)" font-size="12.5" text-anchor="middle" >10</text>
<line x1="247.58" x2="247.58" y1="718.05" y2="720.85" stroke="#111" stroke-width="0.85"/>
<text x="247.58" y="732.30" transform="rotate(0.03 247.58 732.30)" font-size="12.5" text-anchor="middle" >11</text>
<line x1="266.30" x2="266.30" y1="718.05" y2="720.85" stroke="#111" stroke-width="0.85"/>
<text x="266.30" y="732.30" transform="rotate(0.03 266.30 732.30)" font-size="12.5" text-anchor="middle" >12</text>
<line x1="285.02" x2="285.02" y1="718.05" y2="720.85" stroke="#111" stroke-width="0.85"/>
<text x="285.02" y="732.30" transform="rotate(0.03 285.02 732.30)" font-size="12.5" text-anchor="middle" >13</text>
<line x1="303.74" x2="303.74" y1="718.05" y2="720.85" stroke="#111" stroke-width="0.85"/>
<text x="303.74" y="732.30" transform="rotate(0.03 303.74 732.30)" font-size="12.5" text-anchor="middle" >14</text>
<line x1="322.46" x2="322.46" y1="718.05" y2="720.85" stroke="#111" stroke-width="0.85"/>
<text x="322.46" y="732.30" transform="rotate(0.03 322.46 732.30)" font-size="12.5" text-anchor="middle" >15</text>
<line x1="341.18" x2="341.18" y1="718.05" y2="720.85" stroke="#111" stroke-width="0.85"/>
<text x="341.18" y="732.30" transform="rotate(0.03 341.18 732.30)" font-size="12.5" text-anchor="middle" >16</text>
<line x1="359.90" x2="359.90" y1="718.05" y2="720.85" stroke="#111" stroke-width="0.85"/>
<text x="359.90" y="732.30" transform="rotate(0.03 359.90 732.30)" font-size="12.5" text-anchor="middle" >17</text>
<line x1="378.62" x2="378.62" y1="718.05" y2="720.85" stroke="#111" stroke-width="0.85"/>
<text x="378.62" y="732.30" transform="rotate(0.03 378.62 732.30)" font-size="12.5" text-anchor="middle" >18</text>
<line x1="397.34" x2="397.34" y1="718.05" y2="720.85" stroke="#111" stroke-width="0.85"/>
<text x="397.34" y="732.30" transform="rotate(0.03 397.34 732.30)" font-size="12.5" text-anchor="middle" >19</text>
<line x1="416.06" x2="416.06" y1="718.05" y2="720.85" stroke="#111" stroke-width="0.85"/>
<text x="416.06" y="732.30" transform="rotate(0.03 416.06 732.30)" font-size="12.5" text-anchor="middle" >20</text>
<line x1="434.78" x2="434.78" y1="718.05" y2="720.85" stroke="#111" stroke-width="0.85"/>
<text x="434.78" y="732.30" transform="rotate(0.03 434.78 732.30)" font-size="12.5" text-anchor="middle" >21</text>
<line x1="453.50" x2="453.50" y1="718.05" y2="720.85" stroke="#111" stroke-width="0.85"/>
<text x="453.50" y="732.30" transform="rotate(0.03 453.50 732.30)" font-size="12.5" text-anchor="middle" >22</text>
<line x1="472.22" x2="472.22" y1="718.05" y2="720.85" stroke="#111" stroke-width="0.85"/>
<text x="472.22" y="732.30" transform="rotate(0.03 472.22 732.30)" font-size="12.5" text-anchor="middle" >23</text>
<line x1="490.94" x2="490.94" y1="718.05" y2="720.85" stroke="#111" stroke-width="0.85"/>
<text x="490.94" y="732.30" transform="rotate(0.03 490.94 732.30)" font-size="12.5" text-anchor="middle" >24</text>
<line x1="509.66" x2="509.66" y1="718.05" y2="720.85" stroke="#111" stroke-width="0.85"/>
<text x="509.66" y="732.30" transform="rotate(0.03 509.66 732.30)" font-size="12.5" text-anchor="middle" >25</text>
<line x1="528.38" x2="528.38" y1="718.05" y2="720.85" stroke="#111" stroke-width="0.85"/>
<text x="528.38" y="732.30" transform="rotate(0.03 528.38 732.30)" font-size="12.5" text-anchor="middle" >26</text>
<line x1="547.10" x2="547.10" y1="718.05" y2="720.85" stroke="#111" stroke-width="0.85"/>
<text x="547.10" y="732.30" transform="rotate(0.03 547.10 732.30)" font-size="12.5" text-anchor="middle" >27</text>
<line x1="565.82" x2="565.82" y1="718.05" y2="720.85" stroke="#111" stroke-width="0.85"/>
<text x="565.82" y="732.30" transform="rotate(0.03 565.82 732.30)" font-size="12.5" text-anchor="middle" >28</text>
<line x1="584.54" x2="584.54" y1="718.05" y2="720.85" stroke="#111" stroke-width="0.85"/>
<text x="584.54" y="732.30" transform="rotate(0.03 584.54 732.30)" font-size="12.5" text-anchor="middle" >29</text>
<line x1="603.26" x2="603.26" y1="718.05" y2="720.85" stroke="#111" stroke-width="0.85"/>
<text x="603.26" y="732.30" transform="rotate(0.03 603.26 732.30)" font-size="12.5" text-anchor="middle" >30</text>
<line x1="621.98" x2="621.98" y1="718.05" y2="720.85" stroke="#111" stroke-width="0.85"/>
<text x="621.98" y="732.30" transform="rotate(0.03 621.98 732.30)" font-size="12.5" text-anchor="middle" >31</text>
<text x="341.80" y="521.50" transform="rotate(0.03 341.80 521.50)" font-size="12.5" text-anchor="middle" >Single pathologist absolute agreement ICC21 and 95% CI</text>
<text x="341.40" y="746.60" transform="rotate(0.03 341.40 746.60)" font-size="12.5" text-anchor="middle" >Pathologist ID</text>
<text x="330.70" y="765.80" transform="rotate(0.03 330.70 765.80)" font-size="12" text-anchor="middle" >(e)</text>
</svg>
</body></html>
